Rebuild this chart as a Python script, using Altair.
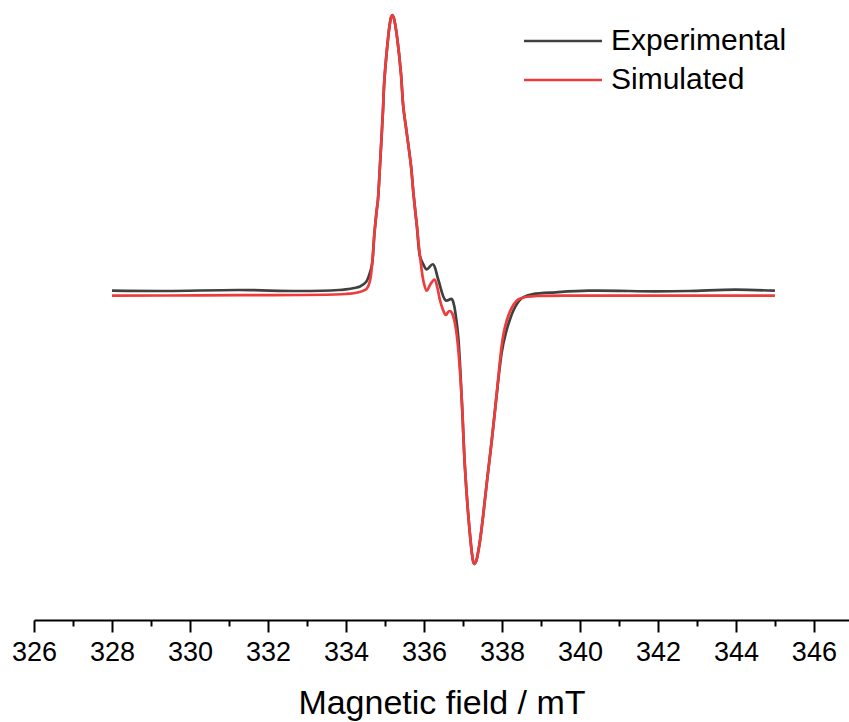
import altair as alt
import pandas as pd

# Magnetic field (mT) and intensity (arb. units)
exp_field = [328.00, 329.39, 331.26, 332.80, 333.82, 334.00, 334.21, 334.36, 334.52, 334.62, 334.67,
             334.73, 334.79, 334.82, 334.88, 334.95, 334.98, 335.05, 335.12, 335.16, 335.19, 335.22,
             335.26, 335.32, 335.41, 335.47, 335.56, 335.67, 335.73, 335.82, 335.90,
             335.99, 336.07, 336.23, 336.37, 336.56, 336.71, 336.77, 336.82, 336.88,
             336.97, 337.05, 337.14, 337.23, 337.26, 337.29, 337.34, 337.39, 337.44, 337.52,
             337.61, 337.74, 337.85, 338.00, 338.10, 338.20, 338.30, 338.40, 338.51, 338.65,
             338.80, 339.37, 340.23, 341.93, 342.79, 343.98, 345.00]
exp_int = [0.3, 0.0, 1.0, 0.0, 1.0, 1.7, 3.0, 4.5, 9.3, 19.0, 27.0,
           57.7, 81.0, 91.0, 131.0, 181.0, 207.7, 241.0, 266.0, 274.0, 276.0, 274.0,
           267.0, 251.0, 217.7, 184.3, 157.7, 124.3, 97.7, 64.3, 34.3,
           26.0, 21.7, 26.7, 11.0, -9.5, -8.0, -14.0, -25.7, -46.0,
           -109.0, -175.7, -225.7, -262.3, -270.0, -273.0, -270.0, -261.0, -249.0, -224.0,
           -192.3, -149.0, -109.0, -60.0, -42.0, -29.0, -19.0, -12.0, -7.3, -4.5,
           -3.0, -1.3, 0.3, -0.3, 0.0, 1.3, 0.3]

sim_field = [328.00, 330.24, 334.00, 334.32, 334.54, 334.62, 334.68,
             334.73, 334.79, 334.82, 334.88, 334.95, 334.98, 335.05, 335.12, 335.16, 335.19, 335.22,
             335.26, 335.32, 335.41, 335.47, 335.56, 335.67, 335.73, 335.82, 335.90,
             335.99, 336.07, 336.17, 336.27, 336.34, 336.41, 336.49, 336.56, 336.62, 336.67, 336.72,
             336.77, 336.82, 336.87, 336.92,
             336.97, 337.05, 337.14, 337.23, 337.26, 337.29, 337.34, 337.39, 337.44, 337.52,
             337.61, 337.74, 337.85, 337.99, 338.05, 338.12, 338.20, 338.30, 338.42, 338.60,
             338.90, 340.23, 345.00]
sim_int = [-4.7, -4.3, -3.0, -1.3, 2.7, 11.0, 31.0,
           57.7, 81.0, 91.0, 131.0, 181.0, 207.7, 241.0, 266.0, 274.0, 276.0, 274.0,
           267.0, 251.0, 217.7, 184.3, 157.7, 124.3, 97.7, 64.3, 34.3,
           9.3, 0.3, 7.0, 11.5, 4.0, -9.0, -19.0, -24.0, -21.0, -20.0, -22.0,
           -28.0, -38.0, -54.0, -78.0,
           -109.0, -175.7, -225.7, -262.3, -270.0, -273.0, -270.0, -261.0, -249.0, -224.0,
           -192.3, -149.0, -109.0, -55.7, -41.0, -30.0, -21.0, -13.5, -8.5, -6.0,
           -5.0, -4.7, -4.7]

series_names = ["Experimental", "Simulated"]
series_colors = ["#404040", "#EE3B3B"]
major_ticks = [326, 328, 330, 332, 334, 336, 338, 340, 342, 344, 346]
minor_ticks = [327, 329, 331, 333, 335, 337, 339, 341, 343, 345]

df = pd.concat([
    pd.DataFrame({"field": exp_field, "intensity": exp_int, "series": series_names[0], "order": range(len(exp_field))}),
    pd.DataFrame({"field": sim_field, "intensity": sim_int, "series": series_names[1], "order": range(len(sim_field))}),
])

FONT = "Liberation Sans"
xscale = alt.Scale(domain=[326, 346.9], nice=False, zero=False)
yscale = alt.Scale(domain=[-329, 291], nice=False, zero=False)

lines = alt.Chart(df).mark_line(strokeWidth=2.7, interpolate="catmull-rom", clip=True).encode(
    x=alt.X("field:Q", scale=xscale,
            axis=alt.Axis(values=major_ticks, title="Magnetic field / mT", orient="bottom",
                          grid=False, domainColor="black", domainWidth=2, tickColor="black",
                          tickWidth=2, tickSize=12, labelFont=FONT, labelFontSize=27,
                          labelColor="black", labelPadding=7, titleFont=FONT, titleFontSize=34,
                          titleFontWeight="normal", titleColor="black", titlePadding=21,
                          labelFlush=False, labelOverlap=False)),
    y=alt.Y("intensity:Q", scale=yscale, axis=None),
    color=alt.Color("series:N", scale=alt.Scale(domain=series_names, range=series_colors),
                    legend=alt.Legend(title=None, orient="none", legendX=508, legendY=20,
                                      symbolType="M-2,0H2", symbolSize=1521, symbolStrokeWidth=2.5,
                                      labelFont=FONT, labelFontSize=30, labelColor="black",
                                      labelOffset=27, labelLimit=0, rowPadding=3, padding=0)),
    order="order:Q",
)

minor = alt.Chart(pd.DataFrame({"t": minor_ticks})).mark_point(opacity=0).encode(
    x=alt.X("t:Q", scale=xscale,
            axis=alt.Axis(values=minor_ticks, orient="bottom", labels=False, domain=False, grid=False,
                          tickColor="black", tickWidth=2, tickSize=6, title=None)),
)

chart = alt.layer(lines, minor).resolve_axis(x="independent").properties(
    width=815, height=620,
    autosize=alt.AutoSizeParams(type="none"),
    padding={"left": 34, "top": 0, "right": 0, "bottom": 102},
).configure_view(stroke=None)

chart.save("out.html", embed_options={"renderer": "svg", "actions": False})
